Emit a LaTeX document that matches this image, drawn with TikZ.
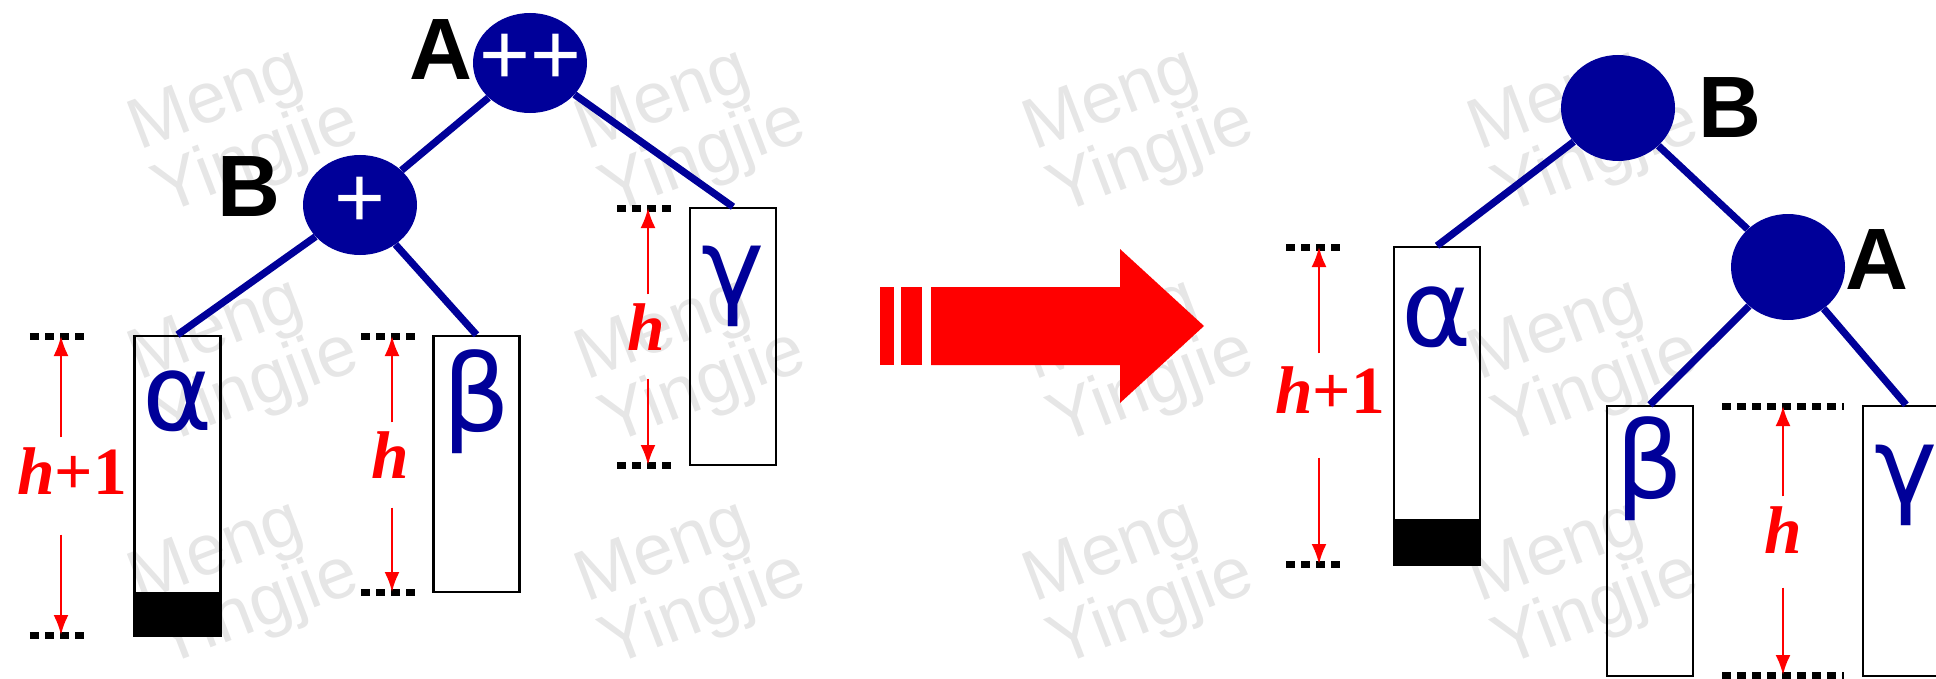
\documentclass[tikz,border=0pt]{standalone}
\usepackage{fontspec}
\setmainfont{Liberation Serif}
\setsansfont{Liberation Sans}
\newfontfamily\greekfont{DejaVu Sans}
\usetikzlibrary{shapes.geometric, arrows.meta, positioning, calc}

\definecolor{avlblue}{RGB}{0,0,153}
\definecolor{markgray}{RGB}{230,230,230}

\begin{document}
\begin{tikzpicture}[x=0.25mm, y=-0.25mm,
    avl/.style={ellipse, fill=avlblue, inner sep=0pt, minimum width=28.5mm, minimum height=25mm},
    bal/.style={text=white, inner sep=0pt, font=\sffamily\fontsize{62}{62}\selectfont},
    subtree/.style={draw, line width=0.6mm, minimum width=21.5mm, inner sep=0pt},
    greek/.style={text=avlblue, inner sep=0pt, font=\greekfont\fontsize{76}{76}\selectfont},
    keylbl/.style={inner sep=0pt, font=\sffamily\bfseries\fontsize{62}{62}\selectfont},
    branch/.style={draw=avlblue, line width=1.8mm},
    dotrow/.style={draw, line width=1.75mm, dash pattern=on 2.25mm off 1.5mm},
    harrow/.style={draw=red, line width=0.6mm, -{Latex[length=5mm, width=3.75mm]}},
    hlbl/.style={text=red, inner sep=0pt, font=\bfseries\fontsize{48}{48}\selectfont},
    wmark/.style={text=markgray, rotate=21, align=left, inner sep=0pt, font=\sffamily\fontsize{51}{44}\selectfont}]

    \useasboundingbox (0,0) rectangle (1936,679);

    % watermark
    \foreach \wx in {245,692,1140,1585}
        \foreach \wy in {128,358,580}
            \node[wmark] (wm-\wx-\wy) at (\wx,\wy) {Meng\\Yingjie};

    % before: A is doubly heavy on the left
    \node[avl] (Al) at (530,63) {};
    \node[avl] (Bl) at (360,205) {};
    \node[bal] (balA) at ([yshift=1mm]Al) {++};
    \node[bal] (balB) at ([yshift=0.75mm]Bl) {+};
    \node[keylbl, left=0pt of Al, yshift=3.25mm] (tagAl) {A};
    \node[keylbl, left=5.5mm of Bl, yshift=4.5mm] (tagBl) {B};

    \node[subtree, minimum height=75mm] (al) at (177.5,486) {};
    \node[subtree, minimum height=64mm] (bl) at (476.5,464) {};
    \node[subtree, minimum height=64.25mm] (gl) at (733,336.5) {};
    \fill (al.south west) rectangle ([yshift=11.25mm]al.south east);
    \node[greek, below=9mm of al.north] (galpha) {α};
    \node[greek, below=3.75mm of bl.north] (gbeta) {β};
    \node[greek, below=9.75mm of gl.north] (ggamma) {γ};

    \path[branch] (Al) -- (Bl);
    \path[branch] (Al) -- (gl.north);
    \path[branch] (Bl) -- (al.north);
    \path[branch] (Bl) -- (bl.north);

    \coordinate (t1) at (61,336);   \coordinate (b1) at (61,635);
    \coordinate (t2) at (392,336);  \coordinate (b2) at (392,592);
    \coordinate (t3) at (648,208);  \coordinate (b3) at (648,465);
    \foreach \c in {t1,b1,t2,b2,t3,b3}
        \draw[dotrow] ([xshift=-7.75mm]\c) -- ([xshift=6mm]\c);
    \node[hlbl] (h1) at (72,471) {\itshape h\upshape+1};
    \node[hlbl] (h2) at (390,455) {\itshape h};
    \node[hlbl] (h3) at (646,327) {\itshape h};
    \draw[harrow, shorten <=2.5mm] (h1.north -| t1) -- (t1);
    \draw[harrow, shorten <=10mm] (h1.south -| b1) -- (b1);
    \draw[harrow, shorten <=2.25mm] (h2.north -| t2) -- (t2);
    \draw[harrow, shorten <=7.25mm] (h2.south -| b2) -- (b2);
    \draw[harrow, shorten <=2.25mm] (h3.north -| t3) -- (t3);
    \draw[harrow, shorten <=7mm] (h3.south -| b3) -- (b3);

    % big arrow
    \fill[red] (880,287) rectangle (894,365);
    \fill[red] (901,287) rectangle (922,365);
    \fill[red] (931,287) -- (1120,287) -- (1120,249) -- (1204,326)
        -- (1120,403) -- (1120,365) -- (931,365) -- cycle;

    % after: single right rotation
    \node[avl, minimum height=26.5mm] (Br) at (1618,108) {};
    \node[avl, minimum height=26.5mm] (Ar) at (1788,267) {};
    \node[keylbl, right=5.75mm of Br] (tagBr) {B};
    \node[keylbl, right=0pt of Ar, yshift=1.75mm] (tagAr) {A};

    \node[subtree, minimum height=79.5mm] (ar) at (1437,406) {};
    \node[subtree, minimum height=67.5mm] (br) at (1650,541) {};
    \node[subtree, minimum height=67.5mm] (gr) at (1906,541) {};
    \fill (ar.south west) rectangle ([yshift=11.75mm]ar.south east);
    \node[greek, below=10.25mm of ar.north] (ralpha) {α};
    \node[greek, below=3mm of br.north] (rbeta) {β};
    \node[greek, below=10mm of gr.north] (rgamma) {γ};

    \path[branch] (Br) -- (ar.north);
    \path[branch] (Br) -- (Ar);
    \path[branch] (Ar) -- (br.north);
    \path[branch] (Ar) -- (gr.north);

    \coordinate (t4) at (1319,247);  \coordinate (b4) at (1319,564);
    \coordinate (t5) at (1783,406);  \coordinate (b5) at (1783,675);
    \draw[dotrow] ([xshift=-8.25mm]t4) -- ([xshift=6.5mm]t4);
    \draw[dotrow] ([xshift=-8.25mm]b4) -- ([xshift=6.5mm]b4);
    \draw[dotrow] ([xshift=-15.25mm]t5) -- ([xshift=15.25mm]t5);
    \draw[dotrow] ([xshift=-15.25mm]b5) -- ([xshift=15.25mm]b5);
    \node[hlbl] (h4) at (1330,390) {\itshape h\upshape+1};
    \node[hlbl] (h5) at (1783,530) {\itshape h};
    \draw[harrow, shorten <=3.25mm] (h4.north -| t4) -- (t4);
    \draw[harrow, shorten <=11mm] (h4.south -| b4) -- (b4);
    \draw[harrow, shorten <=2.5mm] (h5.north -| t5) -- (t5);
    \draw[harrow, shorten <=8.5mm] (h5.south -| b5) -- (b5);
\end{tikzpicture}
\end{document}
